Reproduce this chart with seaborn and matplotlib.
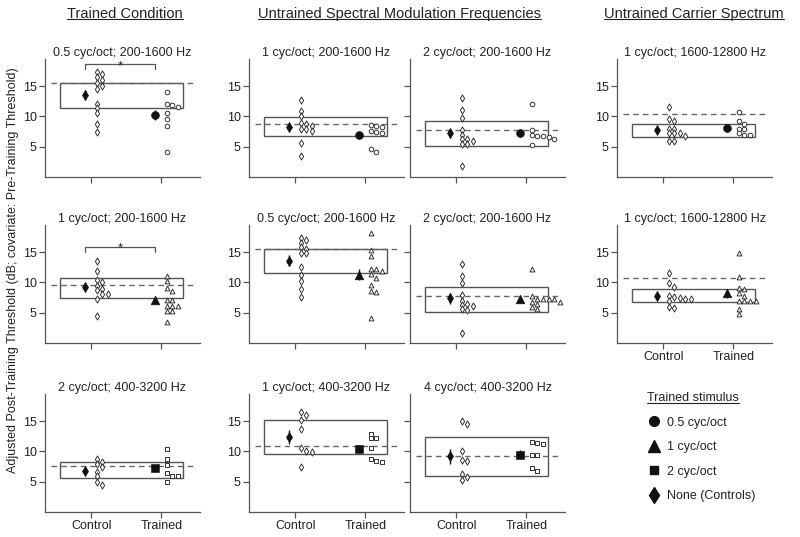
import numpy as np
import pandas as pd
import matplotlib
matplotlib.use("Agg")
import matplotlib.pyplot as plt
import seaborn as sns
from matplotlib.patches import Rectangle
from matplotlib.lines import Line2D

sns.set_style("ticks")
plt.rcParams['font.family'] = ['Liberation Sans', 'DejaVu Sans']

# ---- data ----
titles = ['0.5 cyc/oct; 200-1600 Hz', '1 cyc/oct; 200-1600 Hz', '2 cyc/oct; 200-1600 Hz',
          '1 cyc/oct; 1600-12800 Hz',
          '1 cyc/oct; 200-1600 Hz', '0.5 cyc/oct; 200-1600 Hz', '2 cyc/oct; 200-1600 Hz',
          '1 cyc/oct; 1600-12800 Hz',
          '2 cyc/oct; 400-3200 Hz', '1 cyc/oct; 400-3200 Hz', '4 cyc/oct; 400-3200 Hz']
groups = ['Control', 'Trained']

# individual listeners, controls / trained
ctrl_1 = [17.0, 17.3, 16.5, 16.0, 15.6, 15.0, 14.6, 12.1, 11.4, 10.5, 8.7, 7.5]
trn_1 = [14.0, 12.1, 11.9, 11.5, 10.6, 9.6, 8.5, 4.1]
ctrl_2 = [12.7, 10.9, 10.0, 8.9, 8.7, 8.4, 8.0, 7.9, 7.6, 5.7, 3.4]
trn_2 = [8.6, 8.5, 8.2, 7.6, 7.4, 7.3, 4.7, 4.1]
ctrl_3 = [13.1, 11.0, 9.8, 7.8, 6.9, 6.3, 6.2, 6.0, 5.4, 5.4, 1.8]
trn_3 = [12.1, 7.8, 6.9, 6.8, 6.7, 6.6, 6.3, 5.3]
ctrl_4 = [11.5, 9.6, 9.3, 7.9, 7.9, 7.3, 7.2, 7.2, 6.8, 6.0, 5.9]
trn_4 = [10.7, 9.3, 8.8, 8.0, 7.9, 7.2, 6.9, 6.9]
ctrl_5 = [13.6, 11.9, 10.4, 10.0, 9.4, 8.9, 8.7, 8.1, 8.1, 7.2, 4.4]
trn_5 = [11.0, 10.2, 9.1, 8.6, 7.1, 7.1, 6.1, 6.1, 6.1, 5.3, 5.3, 3.4]
ctrl_6 = [17.3, 17.0, 16.6, 15.9, 15.6, 14.8, 14.8, 12.5, 11.2, 10.2, 9.0, 7.6]
trn_6 = [18.1, 15.4, 14.3, 12.3, 12.2, 11.9, 11.4, 10.8, 9.6, 8.6, 8.5, 4.1]
ctrl_7 = [13.1, 11.0, 9.9, 7.9, 7.0, 6.4, 6.3, 6.1, 5.6, 5.4, 1.7]
trn_7 = [12.2, 7.8, 7.3, 7.2, 7.2, 7.2, 6.8, 6.8, 6.4, 6.0, 5.6]
ctrl_8 = [11.6, 9.9, 9.3, 7.8, 7.6, 7.5, 7.3, 7.3, 6.9, 5.9, 5.8]
trn_8 = [14.8, 10.9, 9.1, 8.9, 8.3, 7.8, 7.0, 7.0, 7.0, 7.0, 5.7, 4.8]
ctrl_9 = [8.8, 8.2, 8.0, 7.5, 6.6, 5.9, 4.9, 4.5]
trn_9 = [10.4, 8.8, 7.8, 6.4, 5.9, 5.9, 5.0]
ctrl_10 = [16.6, 16.1, 15.2, 13.7, 10.5, 10.0, 9.9, 7.4]
trn_10 = [12.9, 12.2, 12.2, 10.6, 8.8, 8.5, 8.2]
ctrl_11 = [15.1, 14.6, 10.1, 8.6, 8.5, 6.3, 5.8, 5.3]
trn_11 = [11.5, 11.4, 11.3, 9.4, 9.4, 7.3, 6.8]

ctrl_mean = [13.5, 8.3, 7.2, 7.7, 9.2, 13.6, 7.4, 7.8, 6.8, 12.4, 9.2]
ctrl_err = [0.8, 0.5, 0.8, 0.5, 0.5, 0.9, 0.9, 0.5, 0.4, 1.2, 1.2]
trn_mean = [10.2, 7.0, 7.3, 8.1, 7.1, 11.3, 7.3, 8.2, 7.2, 10.4, 9.5]
trn_err = [0.8, 0.4, 0.7, 0.4, 0.4, 0.9, 0.5, 0.7, 0.6, 0.7, 0.7]
# range box and pre-training mean (dashed)
box_lo = [11.4, 6.7, 5.1, 6.6, 7.5, 11.5, 5.2, 6.7, 5.6, 9.6, 6.0]
box_hi = [15.6, 9.9, 9.3, 8.8, 10.7, 15.6, 9.3, 9.0, 8.2, 15.2, 12.4]
pre_mean = [15.6, 8.8, 7.8, 10.4, 9.6, 15.6, 7.7, 10.7, 7.6, 10.9, 9.2]
sig_y = [18.6, None, None, None, 15.8, None, None, None, None, None, None]

ctrl_pts = [ctrl_1, ctrl_2, ctrl_3, ctrl_4, ctrl_5, ctrl_6, ctrl_7, ctrl_8, ctrl_9, ctrl_10, ctrl_11]
trn_pts = [trn_1, trn_2, trn_3, trn_4, trn_5, trn_6, trn_7, trn_8, trn_9, trn_10, trn_11]

legend_labels = ['0.5 cyc/oct', '1 cyc/oct', '2 cyc/oct', 'None (Controls)']
row_marker = ['o', '^', 's']

# ---- layout ----
W, H = 800, 537
fig = plt.figure(figsize=(8, 5.37), dpi=100)
col_left = [45, 249, 410, 617]
row_bottom = [177, 343, 512]
aw, ah = 155, 118
cells = [(0, 0), (0, 1), (0, 2), (0, 3), (1, 0), (1, 1), (1, 2), (1, 3), (2, 0), (2, 1), (2, 2)]
ink = '#222222'
line_c = '#555555'
open_s = {'d': 13, 'o': 11, '^': 12, 's': 9}
mean_s = {'d': 27, 'o': 32, '^': 38, 's': 26}


def swarm_x(vals, base, gap=0.65):
    # stack points to the right of the category, new column when too close
    placed = []
    for v in sorted(vals, reverse=True):
        c = 0
        while any(pc == c and abs(pv - v) < gap for pv, pc in placed):
            c += 1
        placed.append((v, c))
    ys = [p[0] for p in placed]
    xs = [base + 0.075 + 0.08 * p[1] for p in placed]
    return xs, ys


for i, (r, c) in enumerate(cells):
    ax = fig.add_axes([col_left[c] / W, 1 - row_bottom[r] / H, aw / W, ah / H])
    ax.set_xlim(-0.66, 1.55)
    ax.set_ylim(0, 19.5)

    ax.add_patch(Rectangle((-0.44, box_lo[i]), 1.75, box_hi[i] - box_lo[i],
                           fill=False, edgecolor=line_c, lw=1.0, zorder=1))
    ax.plot([-0.58, 1.45], [pre_mean[i]] * 2, ls=(0, (4, 3)), color='#666666', lw=1.0, zorder=1)

    cx, cy = swarm_x(ctrl_pts[i], 0)
    tx, ty = swarm_x(trn_pts[i], 1)
    df_c = pd.DataFrame({'x': cx, 'y': cy})
    df_t = pd.DataFrame({'x': tx, 'y': ty})
    tm = row_marker[r]
    sns.scatterplot(data=df_c, x='x', y='y', ax=ax, marker='d', s=open_s['d'], facecolor='white',
                    edgecolor='#333333', linewidth=0.7, zorder=3)
    sns.scatterplot(data=df_t, x='x', y='y', ax=ax, marker=tm, s=open_s[tm],
                    facecolor='white', edgecolor='#333333', linewidth=0.7, zorder=3)

    ax.errorbar([-0.09], [ctrl_mean[i]], yerr=[ctrl_err[i]], fmt='none', ecolor='#111111',
                elinewidth=1.0, capsize=0, zorder=4)
    ax.errorbar([0.91], [trn_mean[i]], yerr=[trn_err[i]], fmt='none', ecolor='#111111',
                elinewidth=1.0, capsize=0, zorder=4)
    sns.scatterplot(x=[-0.09], y=[ctrl_mean[i]], ax=ax, marker='d', s=mean_s['d'],
                    color='#111111', edgecolor='#111111', zorder=5)
    sns.scatterplot(x=[0.91], y=[trn_mean[i]], ax=ax, marker=tm, s=mean_s[tm],
                    color='#111111', edgecolor='#111111', zorder=5)

    if sig_y[i] is not None:
        s = sig_y[i]
        ax.plot([-0.09, -0.09, 0.91, 0.91], [s - 0.7, s, s, s - 0.7], color=line_c, lw=0.9,
                clip_on=False)
        ax.text(0.41, s - 0.75, '*', ha='center', va='baseline', fontsize=9.5, color=ink)

    sns.despine(ax=ax)
    for sp in ['left', 'bottom']:
        ax.spines[sp].set_color(line_c)
        ax.spines[sp].set_linewidth(0.9)
    ax.set_yticks([5, 10, 15])
    ax.set_xticks([0, 1])
    ax.tick_params(axis='both', length=4, width=0.9, color=line_c, labelsize=9,
                   labelcolor=ink, pad=2)
    if c == 2:
        ax.set_yticklabels([])
    if r == 2 or (r == 1 and c == 3):
        ax.set_xticklabels(groups)
    else:
        ax.set_xticklabels([])
    ax.set_xlabel('')
    ax.set_ylabel('')
    ax.set_title(titles[i], fontsize=9, color=ink, pad=2.5)

# column headers
heads = [fig.text(125 / W, 1 - 14 / H, 'Trained Condition', ha='center', va='center',
                  fontsize=10.5, color=ink),
         fig.text(399 / W, 1 - 14 / H, 'Untrained Spectral Modulation Frequencies', ha='center',
                  va='center', fontsize=10.5, color=ink),
         fig.text(694 / W, 1 - 14 / H, 'Untrained Carrier Spectrum', ha='center', va='center',
                  fontsize=10.5, color=ink)]

fig.text(13 / W, 1 - 270 / H,
         'Adjusted Post-Training Threshold (dB; covariate: Pre-Training Threshold)',
         rotation=90, ha='center', va='center', fontsize=9, color=ink)

# legend
handles = [Line2D([], [], marker=m, ls='', color='#111111', markersize=ms)
           for m, ms in zip(['o', '^', 's', 'd'], [7, 8, 6, 8])]
leg = fig.legend(handles, legend_labels, title='Trained stimulus', loc='upper left',
                 bbox_to_anchor=(641 / W, 1 - 386 / H), frameon=False, fontsize=9,
                 title_fontsize=9, handlelength=1.0, handletextpad=0.6, labelspacing=1.0,
                 borderpad=0, alignment='left')
leg.get_title().set_color(ink)
for t in leg.get_texts():
    t.set_color(ink)

# underline headers + legend title
fig.canvas.draw()
inv = fig.transFigure.inverted()
for t in heads + [leg.get_title()]:
    bb = t.get_window_extent().transformed(inv)
    fig.add_artist(Line2D([bb.x0, bb.x1], [bb.y0 + 0.003] * 2, transform=fig.transFigure,
                          color=ink, lw=0.8))

fig.savefig('out.png', dpi=100)
